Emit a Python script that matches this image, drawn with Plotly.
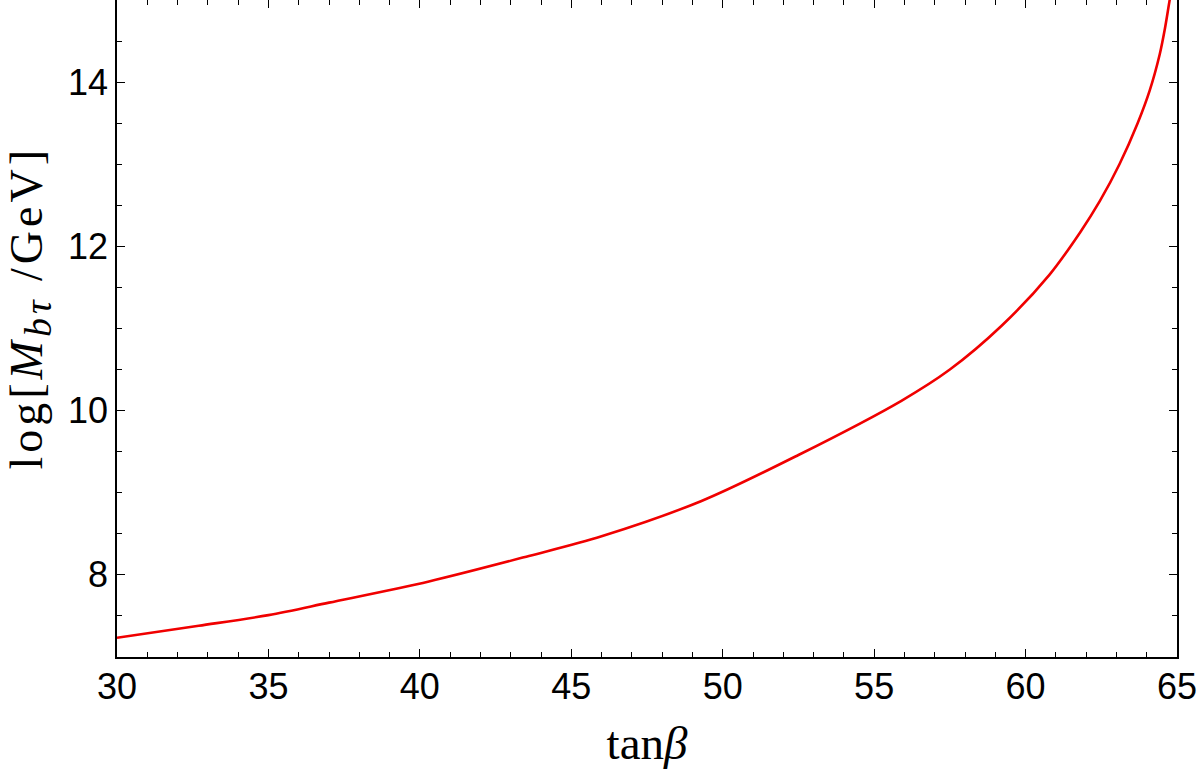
import plotly.graph_objects as go

tan_beta = [30.0, 32.7, 35.0, 37.0, 40.3, 43.6, 46.0, 49.3, 52.5, 55.9, 57.5, 59.2, 60.8,
            61.8, 62.45, 63.1, 63.7, 64.1, 64.43, 64.6, 64.74, 64.85]
log_M = [7.235, 7.38, 7.51, 7.662, 7.92, 8.23, 8.47, 8.90, 9.46, 10.12, 10.50, 11.03, 11.66,
         12.17, 12.55, 13.0, 13.5, 13.9, 14.34, 14.65, 14.96, 15.2]

x_ticks = [30, 35, 40, 45, 50, 55, 60, 65]
y_ticks = [8, 10, 12, 14]

fig = go.Figure()
fig.add_trace(go.Scatter(
    x=tan_beta, y=log_M, mode="lines",
    line=dict(color="#f00000", width=2.6, shape="spline", smoothing=0.9),
    showlegend=False, cliponaxis=True,
))

tickfont = dict(family="Liberation Sans, Arial, sans-serif", size=36, color="black")
xtitlefont = dict(family="Liberation Serif, Times New Roman, serif", size=47, color="black")
ytitlefont = dict(family="Liberation Serif, Times New Roman, serif", size=46, color="black")

fig.update_xaxes(
    range=[30, 65], tickvals=x_ticks, ticktext=[str(v) for v in x_ticks],
    ticks="inside", ticklen=8, tickwidth=1.3, tickcolor="black",
    showline=True, linecolor="black", linewidth=1.5, mirror="allticks",
    showgrid=False, zeroline=False, tickfont=tickfont, ticklabelstandoff=-3,
    minor=dict(dtick=1, ticks="inside", ticklen=5, tickwidth=1.2, tickcolor="black", showgrid=False),
    title=dict(text="tan<i>β</i>", font=xtitlefont, standoff=20),
)
fig.update_yaxes(
    range=[7, 15], tickvals=y_ticks, ticktext=[str(v) for v in y_ticks],
    ticks="inside", ticklen=8, tickwidth=1.3, tickcolor="black",
    showline=True, linecolor="black", linewidth=1.5, mirror="allticks",
    showgrid=False, zeroline=False, tickfont=tickfont,
    minor=dict(dtick=0.5, ticks="inside", ticklen=5, tickwidth=1.2, tickcolor="black", showgrid=False),
)
fig.add_annotation(
    text=("<span style=\"letter-spacing:4px\">log[<i>M</i></span>"
          "<sub><span style=\"font-size:38px;letter-spacing:4px\"><i>bτ</i></span></sub>"
          "<span style=\"letter-spacing:4px\"> /GeV]</span>"),
    xref="paper", yref="paper", x=0, y=0.5, xanchor="center", yanchor="middle",
    xshift=-87, yshift=21, textangle=-90, showarrow=False, font=ytitlefont,
)
fig.update_layout(
    width=1200, height=774,
    margin=dict(l=117, r=23, t=0, b=117, autoexpand=False),
    paper_bgcolor="white", plot_bgcolor="white",
)
fig.write_html("out.html", config={"displayModeBar": False},
               post_script="document.body.style.margin='0';")
